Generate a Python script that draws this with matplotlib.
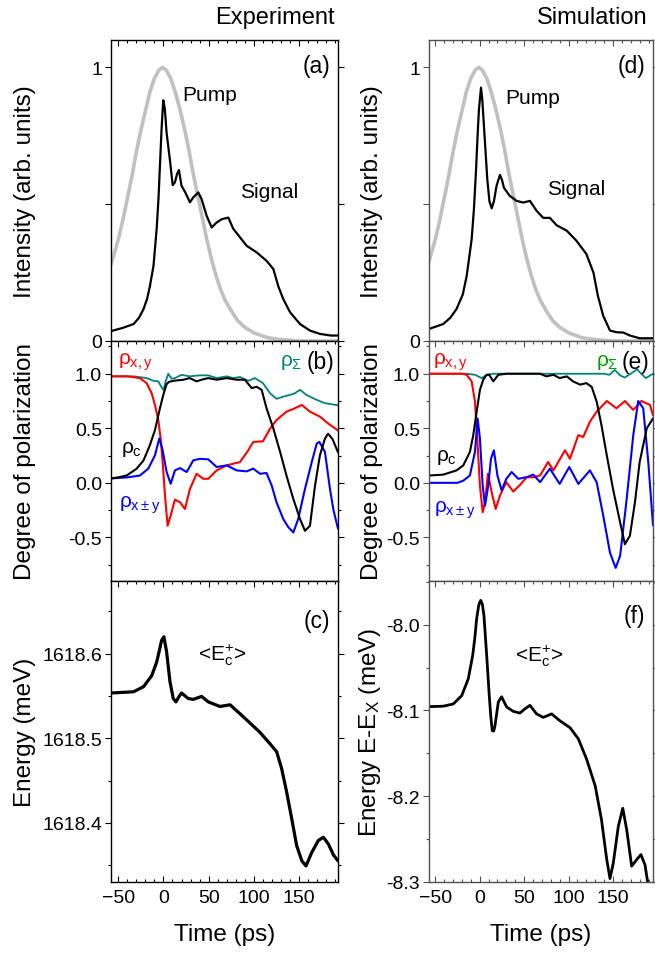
import matplotlib
matplotlib.use("Agg")
import matplotlib.pyplot as plt
from matplotlib.ticker import MultipleLocator, FixedLocator, FormatStrFormatter

plt.rcParams["font.family"] = ["Liberation Sans", "DejaVu Sans"]
plt.rcParams["mathtext.fontset"] = "custom"
plt.rcParams["mathtext.rm"] = "Liberation Sans"
plt.rcParams["mathtext.it"] = "Liberation Sans"
plt.rcParams["mathtext.bf"] = "Liberation Sans"
plt.rcParams["lines.solid_joinstyle"] = "round"
plt.rcParams["lines.solid_capstyle"] = "round"

# —— Data read off the figure ————————————————————————————————
# pump pulse (same in both columns)
pump_t = [-58, -50, -45, -40, -35, -30, -25, -20, -15, -10, -5, -1, 3, 8, 13, 18, 23, 28, 33,
          38, 43, 48, 53, 58, 63, 68, 75, 82, 90, 100, 115, 130, 150, 195]
pump_v = [0.28, 0.37, 0.44, 0.52, 0.60, 0.69, 0.77, 0.84, 0.91, 0.96, 0.99, 1.0, 0.99, 0.96,
          0.91, 0.85, 0.78, 0.70, 0.61, 0.53, 0.45, 0.37, 0.30, 0.24, 0.19, 0.15, 0.11, 0.075,
          0.05, 0.03, 0.012, 0.005, 0.0, 0.0]

# (a) experiment signal
sig_exp_t = [-58, -45, -33, -27, -22, -18, -15, -11, -7.5, -5.5, -3.9, -2, -0.2, 1.5, 3.5, 7.2,
             10.2, 12.7, 15, 17.1, 20, 23.8, 29.3, 33, 38.5, 42.2, 47.8, 53.3, 58.8, 64.4, 71.7,
             77.2, 84.6, 92, 103, 114, 121.5, 127, 132.5, 140, 151, 162, 173, 185, 193]
sig_exp_v = [0.036, 0.048, 0.062, 0.085, 0.117, 0.155, 0.20, 0.275, 0.41, 0.52, 0.64, 0.78, 0.88,
             0.85, 0.76, 0.66, 0.57, 0.58, 0.61, 0.625, 0.567, 0.545, 0.507, 0.525, 0.543, 0.518,
             0.457, 0.415, 0.433, 0.445, 0.451, 0.41, 0.379, 0.348, 0.324, 0.293, 0.263, 0.20,
             0.153, 0.105, 0.062, 0.038, 0.026, 0.02, 0.02]

# (d) simulated signal
sig_sim_t = [-57, -41, -33, -26, -19, -14.6, -9, -6.5, -4.2, -2.2, -0.8, 1.5, 3, 4.8, 8.6, 11,
             13.5, 16, 19, 22.8, 25, 27.3, 34, 41.6, 49, 56.6, 64, 71.5, 79, 86.6, 98, 109, 120,
             128, 133, 139, 146.6, 154, 161.5, 169, 180, 195]
sig_sim_v = [0.044, 0.062, 0.085, 0.117, 0.17, 0.238, 0.372, 0.48, 0.617, 0.76, 0.847, 0.926,
             0.88, 0.786, 0.59, 0.51, 0.485, 0.51, 0.567, 0.607, 0.59, 0.56, 0.53, 0.512, 0.506,
             0.512, 0.476, 0.45, 0.45, 0.423, 0.403, 0.366, 0.318, 0.25, 0.165, 0.092, 0.038,
             0.032, 0.031, 0.02, 0.01, 0.01]

# (b) experiment degrees of polarization
sum_exp_t = [-58, -33, -18.6, -11, -5.7, -2, 0, 2.4, 5.3, 9, 12.7, 20, 29, 40, 49.6, 58.8, 70, 77,
             84.6, 93.8, 101, 110, 118, 125, 132.5, 140, 145, 151, 158, 169.5, 178.6, 193]
sum_exp_v = [0.976, 0.976, 0.96, 0.935, 0.93, 0.874, 0.852, 0.93, 1.0, 0.954, 0.96, 0.99, 0.976,
             0.985, 0.985, 0.96, 0.976, 0.96, 0.97, 0.935, 0.96, 0.914, 0.82, 0.77, 0.79, 0.806,
             0.82, 0.852, 0.806, 0.76, 0.73, 0.71]

circ_exp_t = [-58, -50, -40.7, -29.6, -22, -15, -9.4, -3.9, -0.2, 3.5, 6, 10.8, 22, 29, 36.7, 42,
              49.6, 58.8, 70, 81, 90, 97.6, 103, 108.6, 114, 121.5, 129, 136, 143.6, 151, 156.5,
              162, 167.6, 173, 178.6, 182, 187, 193]
circ_exp_v = [0.04, 0.05, 0.067, 0.13, 0.206, 0.345, 0.483, 0.683, 0.806, 0.905, 0.925, 0.935,
              0.945, 0.96, 0.93, 0.945, 0.96, 0.945, 0.96, 0.945, 0.945, 0.868, 0.88, 0.852, 0.683,
              0.498, 0.283, 0.067, -0.148, -0.332, -0.44, -0.394, -0.025, 0.252, 0.406, 0.45,
              0.40, 0.28]

lin_exp_t = [-58, -40, -26, -18.6, -13, -9.4, -5.7, -3.1, -0.9, 1.7, 4.6, 8, 12.7, 18.3, 23.8,
             29.3, 36.7, 44, 49.6, 58.8, 70, 77, 84.6, 93.8, 99.3, 110, 118, 125, 136, 143.6, 153,
             162, 173, 182, 193]
lin_exp_v = [0.976, 0.976, 0.96, 0.914, 0.82, 0.714, 0.575, 0.406, 0.191, -0.117, -0.394, -0.30,
             -0.154, -0.178, -0.24, -0.055, 0.083, 0.037, 0.037, 0.114, 0.16, 0.175, 0.19, 0.298,
             0.375, 0.38, 0.498, 0.575, 0.652, 0.677, 0.714, 0.652, 0.607, 0.545, 0.48]

diag_exp_t = [-58, -40, -26, -16.8, -9.4, -4.6, -1.3, 3.5, 8, 12.7, 18.3, 25.7, 33, 40.4, 49.6,
              58.8, 70, 81, 92, 99.3, 106.7, 114, 119.7, 125, 132.5, 138, 143.6, 149, 156.5, 164,
              169.5, 172.4, 178.6, 184, 188, 193]
diag_exp_v = [0.04, 0.05, 0.067, 0.13, 0.252, 0.406, 0.314, 0.099, -0.009, 0.114, 0.135, 0.099,
              0.206, 0.22, 0.215, 0.145, 0.16, 0.114, 0.105, 0.13, 0.083, 0.09, -0.025, -0.178,
              -0.332, -0.406, -0.455, -0.332, -0.055, 0.191, 0.36, 0.375, 0.283, -0.05, -0.25,
              -0.42]

# (e) simulated degrees of polarization
sum_sim_t = [-57, -15, -5, 2.2, 8, 15, 140, 146, 152, 158, 163, 170, 177, 183, 187, 195]
sum_sim_v = [1.0, 1.0, 0.99, 0.96, 0.99, 1.0, 1.0, 0.99, 1.035, 0.985, 0.965, 1.0, 1.04, 0.99,
             0.96, 1.0]

circ_sim_t = [-57, -41, -26, -18.4, -11, -7.2, -3.4, 0.3, 4, 7.9, 10.8, 15.3, 21, 30, 68, 75, 83,
              90, 98, 105, 113, 120, 126, 131.6, 137, 143, 150, 158, 163.4, 169, 174.7, 180, 188,
              195]
circ_sim_v = [0.067, 0.075, 0.114, 0.16, 0.283, 0.437, 0.652, 0.852, 0.945, 0.99, 0.99, 0.93,
              0.99, 1.0, 1.0, 0.976, 0.99, 0.96, 0.976, 0.93, 0.9, 0.914, 0.88, 0.745, 0.53, 0.252,
              -0.055, -0.363, -0.563, -0.486, -0.178, 0.191, 0.5, 0.59]

lin_sim_t = [-57, -20, -14.6, -9, -5.3, -2.7, 0.3, 3.4, 6, 9.3, 13.5, 18, 22.8, 30, 37.8, 45.3,
             53, 60, 68, 77, 83, 96, 101.6, 111, 116.5, 124, 131.6, 143, 154, 163.4, 172.8, 182,
             191.6, 195]
lin_sim_v = [1.0, 1.0, 0.99, 0.93, 0.745, 0.406, -0.025, -0.27, -0.178, 0.083, -0.086, -0.24,
             -0.117, 0.006, -0.08, -0.02, 0.052, 0.05, 0.067, 0.191, 0.114, 0.298, 0.22, 0.437,
             0.42, 0.56, 0.652, 0.75, 0.683, 0.75, 0.668, 0.75, 0.714, 0.62]

diag_sim_t = [-57, -25, -18.4, -11, -5.3, -2.3, 0.3, 3.4, 6, 9.7, 12.7, 16, 20, 24.7, 30, 36,
              43.4, 53, 60.3, 68, 79, 90, 100.8, 111, 124, 131.6, 139, 146.6, 153, 158, 165,
              172.8, 178.4, 184, 189.7, 195]
diag_sim_v = [0.0, 0.0, 0.02, 0.067, 0.283, 0.59, 0.406, -0.025, -0.21, -0.025, 0.22, 0.298,
              0.067, -0.07, 0.037, 0.099, 0.037, 0.052, 0.075, 0.006, 0.13, -0.01, 0.145, -0.01,
              0.114, 0.006, -0.3, -0.64, -0.78, -0.67, -0.178, 0.437, 0.75, 0.683, 0.19, -0.39]

# (c) experiment energy
en_exp_t = [-58, -33, -22, -13, -7.5, -4.5, -2, 0.5, 3.5, 7.2, 10.8, 13.8, 17, 20, 27.4, 33, 42.2,
            49.6, 62.5, 73.6, 84.6, 95.7, 106.7, 117.8, 125.2, 130.7, 136.3, 141.8, 147.3, 153,
            157.6, 164, 171.2, 176.8, 182.3, 188, 193]
en_exp_v = [1618.5535, 1618.555, 1618.561, 1618.574, 1618.590, 1618.604, 1618.616, 1618.620,
            1618.602, 1618.567, 1618.547, 1618.543, 1618.549, 1618.5535, 1618.547, 1618.546,
            1618.5495, 1618.543, 1618.5376, 1618.5396, 1618.529, 1618.518, 1618.507, 1618.4935,
            1618.484, 1618.464, 1618.436, 1618.405, 1618.373, 1618.355, 1618.349, 1618.365,
            1618.379, 1618.383, 1618.375, 1618.362, 1618.355]

# (f) simulated energy
en_sim_t = [-57, -41, -29.7, -20.2, -12.8, -7.9, -5.5, -3.4, -1, 1.1, 3, 4.8, 7.9, 10.8, 12.5,
            14.2, 15.8, 17.2, 21, 24.7, 27.5, 30.4, 37.8, 45.3, 51, 56.6, 64, 71.5, 81, 90.3,
            101.6, 111, 120.4, 130, 137, 143, 146.6, 150.3, 156, 161, 165.4, 171, 176.6, 181.4,
            186, 189.7, 195]
en_sim_v = [-8.0955, -8.095, -8.0924, -8.0827, -8.063, -8.036, -8.016, -7.993, -7.977, -7.9716,
            -7.976, -7.989, -8.036, -8.0827, -8.107, -8.1236, -8.124, -8.118, -8.090, -8.084,
            -8.09, -8.096, -8.101, -8.103, -8.098, -8.094, -8.104, -8.108, -8.104, -8.112,
            -8.120, -8.133, -8.157, -8.188, -8.227, -8.274, -8.296, -8.278, -8.235, -8.214,
            -8.239, -8.2815, -8.274, -8.268, -8.28, -8.305, -8.35]

# —— Figure layout ——————————————————————————————————————————
fig = plt.figure(figsize=(6.55, 9.54), dpi=100)
W, H = 655.0, 954.0


def add_ax(x0, x1, y0, y1):
    return fig.add_axes([x0 / W, 1 - y1 / H, (x1 - x0) / W, (y1 - y0) / H])


ax_a = add_ax(111, 338, 41, 342)
ax_b = add_ax(111, 338, 342, 582)
ax_c = add_ax(111, 338, 582, 883)
ax_d = add_ax(429, 653, 41, 342)
ax_e = add_ax(429, 653, 342, 582)
ax_f = add_ax(429, 653, 582, 883)

RED, BLUE, TEAL = "#ff0000", "#0000ff", "#008080"
TICK = 14
LAB = 17.5

for ax, xlim, col in [(ax_a, (-58, 193), "k"), (ax_b, (-58, 193), "k"), (ax_c, (-58, 193), "k"),
                      (ax_d, (-57, 195), "#505050"), (ax_e, (-57, 195), "#505050"),
                      (ax_f, (-57, 195), "#505050")]:
    ax.set_xlim(*xlim)
    ax.xaxis.set_major_locator(MultipleLocator(50))
    ax.xaxis.set_minor_locator(MultipleLocator(10))
    bottom = ax in (ax_c, ax_f)
    ax.tick_params(axis="x", which="both", direction="in", top=True, bottom=bottom,
                   labelbottom=bottom, labelsize=TICK, width=0.8, color=col, pad=5)
    ax.tick_params(axis="y", which="both", direction="out", left=True, right=True,
                   labelsize=TICK, width=0.8, color=col, pad=2)
    ax.tick_params(which="major", length=4.5)
    ax.tick_params(which="minor", length=2.5)
    for s in ax.spines.values():
        s.set_linewidth(1.0)
        s.set_color(col)

# (a) / (d) intensity
for ax, st, sv, tag, pump_xy, sig_xy in [
        (ax_a, sig_exp_t, sig_exp_v, "(a)", (20.5, 0.90), (84.6, 0.546)),
        (ax_d, sig_sim_t, sig_sim_v, "(d)", (29.2, 0.89), (75.4, 0.558))]:
    ax.plot(pump_t, pump_v, color="#c0c0c0", lw=2.6)
    ax.plot(st, sv, color="k", lw=1.6)
    ax.set_ylim(0, 1.1)
    ax.yaxis.set_major_locator(FixedLocator([0, 0.5, 1]))
    ax.set_yticklabels(["0", "", "1"])
    ax.set_ylabel("Intensity (arb. units)", fontsize=LAB)
    ax.text(0.965, 0.915, tag, transform=ax.transAxes, ha="right", va="center", fontsize=16.5)
    ax.text(*pump_xy, "Pump", ha="left", va="center", fontsize=15)
    ax.text(*sig_xy, "Signal", ha="left", va="center", fontsize=15)

# (b) / (e) polarization
for ax, data, tag, sig_col, pos in [
        (ax_b, [(sum_exp_t, sum_exp_v, TEAL, 1.3), (lin_exp_t, lin_exp_v, RED, 1.5),
                (diag_exp_t, diag_exp_v, BLUE, 1.5), (circ_exp_t, circ_exp_v, "k", 1.5)],
         "(b)", TEAL, (0.745, 0.55, 0.32)),
        (ax_e, [(sum_sim_t, sum_sim_v, TEAL, 1.3), (lin_sim_t, lin_sim_v, RED, 1.5),
                (diag_sim_t, diag_sim_v, BLUE, 1.5), (circ_sim_t, circ_sim_v, "k", 1.5)],
         "(e)", "#00a000", (0.745, 0.52, 0.30))]:
    for t, v, c, lw in data:
        ax.plot(t, v, color=c, lw=lw)
    ax.set_ylim(-0.9, 1.3)
    ax.yaxis.set_major_locator(FixedLocator([-0.5, 0.0, 0.5, 1.0]))
    ax.yaxis.set_minor_locator(MultipleLocator(0.25))
    ax.yaxis.set_major_formatter(FormatStrFormatter("%.1f"))
    ax.set_ylabel("Degree of polarization", fontsize=LAB)
    x0 = 0.03 if ax is ax_b else 0.018
    ax.text(x0, 0.915, r"$\rho_{x,y}$", transform=ax.transAxes, color=RED, fontsize=15,
            ha="left", va="center")
    ax.text(pos[0], 0.915, r"$\rho_{\Sigma}$", transform=ax.transAxes, color=sig_col,
            fontsize=15, ha="left", va="center")
    ax.text(0.985, 0.915, tag, transform=ax.transAxes, ha="right", va="center", fontsize=16.5)
    ax.text(x0 + 0.015, pos[1], r"$\rho_{c}$", transform=ax.transAxes, color="k", fontsize=15,
            ha="left", va="center")
    ax.text(x0 + 0.005, pos[2], r"$\rho_{x\pm y}$", transform=ax.transAxes, color=BLUE,
            fontsize=15, ha="left", va="center")

# (c) experiment energy
ax_c.plot(en_exp_t, en_exp_v, color="k", lw=2.3)
ax_c.set_ylim(1618.33, 1618.686)
ax_c.yaxis.set_major_locator(FixedLocator([1618.4, 1618.5, 1618.6]))
ax_c.yaxis.set_minor_locator(MultipleLocator(0.05))
ax_c.yaxis.set_major_formatter(FormatStrFormatter("%.1f"))
ax_c.set_ylabel("Energy (meV)", fontsize=LAB)
ax_c.text(0.965, 0.87, "(c)", transform=ax_c.transAxes, ha="right", va="center", fontsize=16.5)
ax_c.text(38, 1618.6, r"<E$_\mathrm{c}^\mathrm{+}$>", ha="left", va="center", fontsize=15)

# (f) simulated energy
ax_f.plot(en_sim_t, en_sim_v, color="k", lw=2.0)
ax_f.set_ylim(-8.3, -7.949)
ax_f.yaxis.set_major_locator(FixedLocator([-8.3, -8.2, -8.1, -8.0]))
ax_f.yaxis.set_minor_locator(MultipleLocator(0.05))
ax_f.yaxis.set_major_formatter(FormatStrFormatter("%.1f"))
ax_f.set_ylabel(r"Energy E-E$_\mathrm{X}$ (meV)", fontsize=LAB)
ax_f.text(0.965, 0.884, "(f)", transform=ax_f.transAxes, ha="right", va="center", fontsize=16.5)
ax_f.text(39.7, -8.036, r"<E$_\mathrm{c}^\mathrm{+}$>", ha="left", va="center", fontsize=15)

for ax in (ax_c, ax_f):
    ax.set_xlabel("Time (ps)", fontsize=LAB, labelpad=12)

for ax in (ax_a, ax_b, ax_c):
    ax.yaxis.set_label_coords(-0.33, 0.5)
for ax in (ax_d, ax_e, ax_f):
    ax.yaxis.set_label_coords(-0.205, 0.5)

fig.text(335 / W, 1 - 18 / H, "Experiment", ha="right", va="center", fontsize=17)
fig.text(648 / W, 1 - 18 / H, "Simulation", ha="right", va="center", fontsize=17)

fig.savefig("out.png", dpi=100)
